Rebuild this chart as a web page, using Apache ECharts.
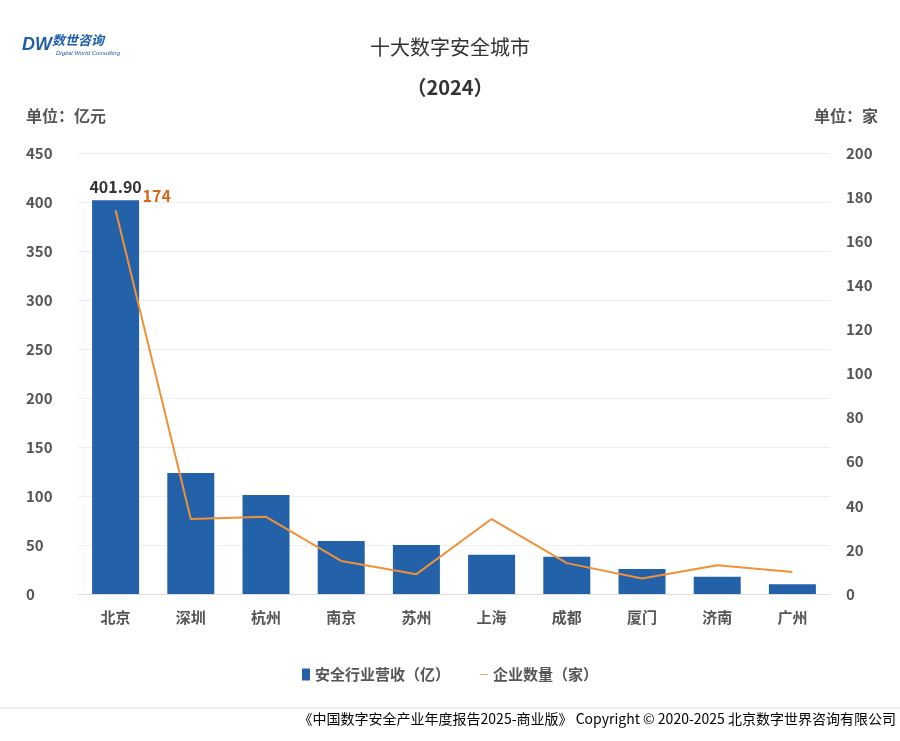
<!DOCTYPE html>
<html>
<head>
<meta charset="utf-8">
<script src="https://cdn.jsdelivr.net/npm/echarts@6/dist/echarts.min.js"></script>
<style>body{margin:0;background:#fff}#main{width:900px;height:741px}</style>
</head>
<body>
<div id="main"></div>
<script>
var cities = ['北京', '深圳', '杭州', '南京', '苏州', '上海', '成都', '厦门', '济南', '广州'];
var revenue = [401.9, 123.5, 101, 54, 50, 40, 38, 25.5, 17.5, 10];
var companies = [174, 34, 35, 15, 9, 34, 14, 7, 13, 10];

var chart = echarts.init(document.getElementById('main'));
var font = 'Noto Sans CJK SC';
chart.setOption({
    animation: false,
    textStyle: { fontFamily: font },
    title: [
        { text: '十大数字安全城市', left: 'center', top: 32, textStyle: { fontSize: 20, fontWeight: 'normal', color: '#333' } },
        { text: '（2024）', left: 'center', top: 72, textStyle: { fontSize: 20, fontWeight: 'bold', color: '#333' } }
    ],
    graphic: [
        { type: 'text', left: 22, top: 36, style: { text: 'DW', fontSize: 18, fontStyle: 'italic', fontWeight: 'bold', fill: '#1f5fa8' } },
        { type: 'text', left: 52, top: 34, style: { text: '数世咨询', fontSize: 13, fontStyle: 'italic', fontWeight: 'bold', fill: '#1f5fa8', fontFamily: font } },
        { type: 'text', left: 56, top: 50, style: { text: 'Digital World Consulting', fontSize: 6, fontStyle: 'italic', fill: '#1f5fa8' } },
        { type: 'text', left: 26, top: 108, style: { text: '单位：亿元', fontSize: 16, fontWeight: 'bold', fill: '#555', fontFamily: font } },
        { type: 'text', right: 22, top: 108, style: { text: '单位：家', fontSize: 16, fontWeight: 'bold', fill: '#555', fontFamily: font } },
        { type: 'line', shape: { x1: 0, y1: 708, x2: 900, y2: 708 }, style: { stroke: '#ddd' } },
        { type: 'text', right: 4, top: 712, style: { text: '《中国数字安全产业年度报告2025-商业版》 Copyright © 2020-2025 北京数字世界咨询有限公司', fontSize: 14, fill: '#000', fontFamily: font } }
    ],
    legend: {
        bottom: 54, itemGap: 30,
        textStyle: { fontSize: 15, fontWeight: 'bold', color: '#555' },
        data: [
            { name: '安全行业营收（亿）', icon: 'rect', itemStyle: { color: '#2361a9' } },
            { name: '企业数量（家）', icon: 'path://M0,5 L20,5 L20,7 L0,7 Z' }
        ],
        itemWidth: 8, itemHeight: 12
    },
    grid: { left: 78, right: 70, top: 153, bottom: 147 },
    xAxis: {
        type: 'category', data: cities,
        axisLine: { lineStyle: { color: '#ddd' } }, axisTick: { show: false },
        axisLabel: { fontSize: 15, fontWeight: 'bold', color: '#555', margin: 16 }
    },
    yAxis: [
        { type: 'value', min: 0, max: 450, interval: 50,
          axisLabel: { fontSize: 15, fontWeight: 'bold', color: '#555', margin: 52, align: 'left' },
          splitLine: { lineStyle: { color: '#eee' } } },
        { type: 'value', min: 0, max: 200, interval: 20,
          axisLabel: { fontSize: 15, fontWeight: 'bold', color: '#555', margin: 16 },
          splitLine: { show: false } }
    ],
    series: [
        { name: '安全行业营收（亿）', type: 'bar', data: revenue, barWidth: 47,
          itemStyle: { color: '#2361a9' },
          label: { show: true, position: 'top', fontSize: 16, fontWeight: 'bold', color: '#333',
                   formatter: function (p) { return p.dataIndex === 0 ? p.value.toFixed(2) : ''; } } },
        { name: '企业数量（家）', type: 'line', yAxisIndex: 1, data: companies,
          symbol: 'circle', symbolSize: 0, showSymbol: true,
          lineStyle: { color: '#f0913a', width: 2 }, itemStyle: { color: '#f0913a' },
          label: { show: true, position: 'right', offset: [22, -14], fontSize: 16, fontWeight: 'bold', color: '#d9651b',
                   formatter: function (p) { return p.dataIndex === 0 ? String(p.value) : ''; } } }
    ]
});
</script>
</body>
</html>
